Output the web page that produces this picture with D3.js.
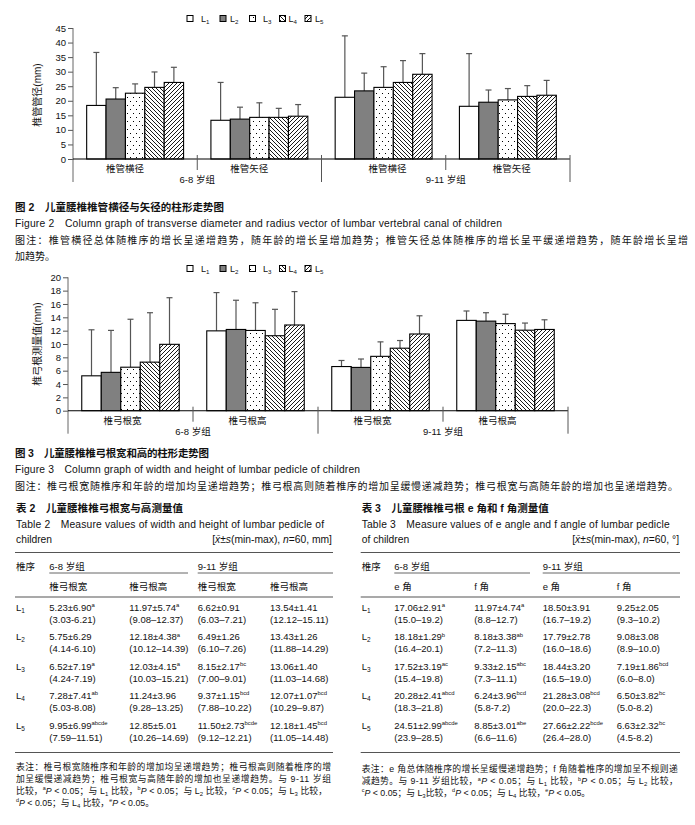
<!DOCTYPE html>
<html><head><meta charset="utf-8">
<script src="https://cdn.jsdelivr.net/npm/d3@7"></script>
<style>
html,body{margin:0;padding:0;background:#fff;}
svg text{white-space:pre;}
</style>
</head><body>
<svg id="page" width="695" height="825"></svg>
<script>
// ---------------- DATA ----------------
const levels = ["L1", "L2", "L3", "L4", "L5"];
const levelLabels = ["L_{1}", "L_{2}", "L_{3}", "L_{4}", "L_{5}"];
const ageGroups = ["6-8 岁组", "9-11 岁组"];

// Figure 2
const fig2Cats = ["椎管横径", "椎管矢径", "椎管横径", "椎管矢径"];
const fig2Mean = [
  [18.4, 20.6, 22.6, 24.6, 26.3],
  [13.3, 13.7, 14.3, 14.3, 14.7],
  [21.2, 23.4, 24.6, 26.3, 29.1],
  [18.1, 19.5, 20.3, 21.5, 21.9]
];
const fig2Sd = [
  [18.2, 3.9, 3.2, 5.3, 5.2],
  [13.0, 4.1, 5.0, 3.1, 4.0],
  [21.1, 6.1, 7.1, 7.5, 7.1],
  [18.1, 4.2, 3.9, 3.7, 5.1]
];
const fig2Ticks = [0, 5, 10, 15, 20, 25, 30, 35, 40, 45];

// Table 2 / Figure 3
const fig3Cats = ["椎弓根宽", "椎弓根高", "椎弓根宽", "椎弓根高"];
const fig3Ticks = [0, 2, 4, 6, 8, 10, 12, 14, 16, 18, 20];
const widthYoungMean = [5.23, 5.75, 6.52, 7.28, 9.95];
const widthYoungSd = [6.90, 6.29, 7.19, 7.41, 6.99];
const widthYoungSup = ["a", "", "a", "ab", "abcde"];
const widthYoungRange = ["3.03-6.21", "4.14-6.10", "4.24-7.19", "5.03-8.08", "7.59–11.51"];
const heightYoungMean = [11.97, 12.18, 12.03, 11.24, 12.85];
const heightYoungSd = [5.74, 4.38, 4.15, 3.96, 5.01];
const heightYoungSup = ["a", "a", "a", "", ""];
const heightYoungRange = ["9.08–12.37", "10.12–14.39", "10.03–15.21", "9.28–13.25", "10.26–14.69"];
const widthOldMean = [6.62, 6.49, 8.15, 9.37, 11.50];
const widthOldSd = [0.91, 1.26, 2.17, 1.15, 2.73];
const widthOldSup = ["", "", "bc", "bcd", "bcde"];
const widthOldRange = ["6.03–7.21", "6.10–7.26", "7.00–9.01", "7.88–10.22", "9.12–12.21"];
const heightOldMean = [13.54, 13.43, 13.06, 12.07, 12.18];
const heightOldSd = [1.41, 1.26, 1.40, 1.07, 1.45];
const heightOldSup = ["", "", "", "bcd", "bcd"];
const heightOldRange = ["12.12–15.11", "11.88–14.29", "11.03–14.68", "10.29–9.87", "11.05–14.48"];

// Table 3
const eYoungMean = [17.06, 18.18, 17.52, 20.28, 24.51];
const eYoungSd = [2.91, 1.29, 3.19, 2.41, 2.99];
const eYoungSup = ["a", "b", "ac", "abcd", "abcde"];
const eYoungRange = ["15.0–19.2", "16.4–20.1", "15.4–19.8", "18.3–21.8", "23.9–28.5"];
const fYoungMean = [11.97, 8.18, 9.33, 6.24, 8.85];
const fYoungSd = [4.74, 3.38, 2.15, 3.96, 3.01];
const fYoungSup = ["a", "ab", "abc", "bcd", "abe"];
const fYoungRange = ["8.8–12.7", "7.2–11.3", "7.3–11.1", "5.8-7.2", "6.6–11.6"];
const eOldMean = [18.50, 17.79, 18.44, 21.28, 27.66];
const eOldSd = [3.91, 2.78, 3.20, 3.08, 2.22];
const eOldSup = ["", "", "", "bcd", "bcde"];
const eOldRange = ["16.7–19.2", "16.0–18.6", "16.5–19.0", "20.0–22.3", "26.4–28.0"];
const fOldMean = [9.25, 9.08, 7.19, 6.50, 6.63];
const fOldSd = [2.05, 3.08, 1.86, 3.82, 2.32];
const fOldSup = ["", "", "bcd", "bc", "bc"];
const fOldRange = ["9.3–10.2", "8.9–10.0", "6.0–8.0", "5.0-8.2", "4.5-8.2"];

// ---------------- RENDER ----------------
const FONT = '"Liberation Sans", Arial, "Noto Sans CJK SC", sans-serif';
const svg = d3.select("#page").attr("font-family", FONT);
svg.append("rect").attr("width", 695).attr("height", 825).attr("fill", "#fff");

const defs = svg.append("defs");
const pDots = defs.append("pattern").attr("id", "pDots").attr("patternUnits", "userSpaceOnUse").attr("width", 6).attr("height", 8);
pDots.append("rect").attr("width", 6).attr("height", 8).attr("fill", "#fff");
pDots.append("rect").attr("x", 1).attr("y", 1).attr("width", 1).attr("height", 1).attr("fill", "#000");
pDots.append("rect").attr("x", 4).attr("y", 5).attr("width", 1).attr("height", 1).attr("fill", "#000");
const pBack = defs.append("pattern").attr("id", "pBack").attr("patternUnits", "userSpaceOnUse").attr("width", 4).attr("height", 4);
pBack.append("rect").attr("width", 4).attr("height", 4).attr("fill", "#fff");
pBack.append("path").attr("d", "M-1,3 l2,2 M0,0 l4,4 M3,-1 l2,2").attr("stroke", "#000").attr("stroke-width", 0.9);
const pFwd = defs.append("pattern").attr("id", "pFwd").attr("patternUnits", "userSpaceOnUse").attr("width", 4).attr("height", 4);
pFwd.append("rect").attr("width", 4).attr("height", 4).attr("fill", "#fff");
pFwd.append("path").attr("d", "M-1,1 l2,-2 M0,4 l4,-4 M3,5 l2,-2").attr("stroke", "#000").attr("stroke-width", 0.9);
const fills = ["#fff", "#808080", "url(#pDots)", "url(#pBack)", "url(#pFwd)"];
const color = d3.scaleOrdinal().domain(levels).range(fills);

function rich(parent, x, yc, str, size, opts = {}) {
  const t = parent.append("text").attr("x", x).attr("y", yc + size * 0.36)
    .attr("font-size", size).attr("fill", opts.fill || "#111");
  if (opts.weight) t.attr("font-weight", opts.weight);
  if (opts.anchor) t.attr("text-anchor", opts.anchor);
  const parts = str.split(/(\^\{[^}]*\}|_\{[^}]*\}|\*[^*]+\*)/).filter(s => s.length);
  let shift = 0;
  parts.forEach(p => {
    let dy = 0, txt = p, fs = null, it = false;
    if (p.startsWith("^{")) { txt = p.slice(2, -1); fs = size * 0.62; dy = -size * 0.4; }
    else if (p.startsWith("_{")) { txt = p.slice(2, -1); fs = size * 0.68; dy = size * 0.22; }
    else if (p.startsWith("*")) { txt = p.slice(1, -1); it = true; }
    const ts = t.append("tspan").text(txt);
    if (dy - shift !== 0) ts.attr("dy", dy - shift);
    shift = dy;
    if (fs) ts.attr("font-size", fs);
    if (it) ts.attr("font-style", "italic");
  });
  if (opts.width) t.attr("textLength", opts.width).attr("lengthAdjust", "spacing");
  return t;
}

function barChart(cfg) {
  const g = svg.append("g");
  const y = d3.scaleLinear().domain([0, d3.max(cfg.ticks)]).range([cfg.yBase, cfg.yTop]);
  const x = d3.scaleBand().domain(d3.range(cfg.cats.length)).range([cfg.x0, cfg.x1]);
  const groupW = x.bandwidth() * 0.78;
  const inner = d3.scaleBand().domain(levels).range([0, groupW]);

  // y axis
  const ax = g.append("g").attr("transform", `translate(${cfg.x0},0)`)
    .call(d3.axisLeft(y).tickValues(cfg.ticks).tickSize(5).tickPadding(2));
  ax.select(".domain").remove();
  ax.selectAll(".tick line").attr("stroke", "#555");
  ax.selectAll(".tick text").attr("font-size", 9.5).attr("fill", "#111").attr("font-family", FONT);
  g.append("line").attr("x1", cfg.x0).attr("x2", cfg.x0).attr("y1", cfg.yTop).attr("y2", cfg.yBase + 23)
    .attr("stroke", "#666").attr("stroke-width", 1);

  // bars
  cfg.means.forEach((row, i) => {
    row.forEach((v, j) => {
      const lv = levels[j];
      const bx = x(i) + (x.bandwidth() - groupW) / 2 + inner(lv);
      const cx = bx + inner.bandwidth() / 2;
      const top = v + cfg.sds[i][j];
      g.append("line").attr("x1", cx).attr("x2", cx).attr("y1", y(v)).attr("y2", y(top))
        .attr("stroke", "#555").attr("stroke-width", 1.2);
      g.append("line").attr("x1", cx - 3).attr("x2", cx + 3).attr("y1", y(top)).attr("y2", y(top))
        .attr("stroke", "#555").attr("stroke-width", 1.2);
      g.append("rect").attr("x", bx).attr("y", y(v)).attr("width", inner.bandwidth()).attr("height", y(0) - y(v))
        .attr("fill", color(lv)).attr("stroke", "#000").attr("stroke-width", 1.1);
    });
  });

  // baseline
  g.append("line").attr("x1", cfg.x0).attr("x2", cfg.x1).attr("y1", y(0)).attr("y2", y(0))
    .attr("stroke", "#000").attr("stroke-width", 1.1);
  // separators
  d3.range(1, cfg.cats.length + 1).forEach(k => {
    const sx = cfg.x0 + k * x.bandwidth();
    const long = k % 2 === 0;
    g.append("line").attr("x1", sx).attr("x2", sx).attr("y1", y(0) - 4).attr("y2", y(0) + (long ? 23 : 11))
      .attr("stroke", "#555").attr("stroke-width", 1);
  });
  // category labels
  cfg.cats.forEach((c, i) => {
    rich(g, x(i) + x.bandwidth() / 2 + cfg.labOff[i], y(0) + 10, c, 9.5, { anchor: "middle" });
  });
  ageGroups.forEach((a, k) => {
    rich(g, cfg.x0 + (2 * k + 1) * x.bandwidth(), y(0) + 20.5, a, 9.5, { anchor: "middle" });
  });
  // y label
  g.append("text").attr("transform", `translate(41,${cfg.yLabelY}) rotate(-90)`)
    .attr("text-anchor", "middle").attr("font-size", 10).attr("fill", "#111").text(cfg.yLabel);

  // legend
  const lbx = [187, 220, 249.5, 279.5, 305];
  const ltx = [201, 230, 263, 288.5, 315];
  levels.forEach((lv, j) => {
    g.append("rect").attr("x", lbx[j]).attr("y", cfg.legendY - 3).attr("width", 6).attr("height", 6)
      .attr("fill", color(lv)).attr("stroke", "#000").attr("stroke-width", 1);
    rich(g, ltx[j], cfg.legendY, levelLabels[j], 9, {});
  });
}

barChart({
  cats: fig2Cats, means: fig2Mean, sds: fig2Sd, ticks: fig2Ticks,
  yBase: 159, yTop: 28, x0: 73, x1: 570, labOff: [-10, -10, 4, 4],
  yLabel: "椎管管径(mm)", yLabelY: 95, legendY: 18.5
});
barChart({
  cats: fig3Cats,
  means: [widthYoungMean, heightYoungMean, widthOldMean, heightOldMean],
  sds: [widthYoungSd, heightYoungSd, widthOldSd, heightOldSd],
  ticks: fig3Ticks,
  yBase: 410.7, yTop: 277.3, x0: 68, x1: 568, labOff: [-8, -8, -8, -8],
  yLabel: "椎弓根测量值(mm)", yLabelY: 344, legendY: 268.5
});

// captions
const cap = svg.append("g");
rich(cap, 15, 207, "图 2　儿童腰椎椎管横径与矢径的柱形走势图", 10.5, { weight: "bold", width: 209 });
rich(cap, 15, 223.5, "Figure 2　Column graph of transverse diameter and radius vector of lumbar vertebral canal of children", 10.3, { width: 487 });
rich(cap, 15, 240, "图注：椎管横径总体随椎序的增长呈递增趋势，随年龄的增长呈增加趋势；椎管矢径总体随椎序的增长呈平缓递增趋势，随年龄增长呈增", 10, { width: 673 });
rich(cap, 15, 256.5, "加趋势。", 10, {});
rich(cap, 15, 453, "图 3　儿童腰椎椎弓根宽和高的柱形走势图", 10.5, { weight: "bold", width: 194 });
rich(cap, 15, 469.5, "Figure 3　Column graph of width and height of lumbar pedicle of children", 10.3, { width: 345 });
rich(cap, 15, 486, "图注：椎弓根宽随椎序和年龄的增加均呈递增趋势；椎弓根高则随着椎序的增加呈缓慢递减趋势；椎弓根宽与高随年龄的增加也呈递增趋势。", 10, { width: 663 });

// tables
function drawTable(t) {
  const g = svg.append("g");
  const L = t.cols[0], R = t.right;
  rich(g, L, 508, t.title, 10.5, { weight: "bold", width: t.titleW });
  rich(g, L, 524, t.en1, 10.3, { width: t.en1W });
  rich(g, L, 539.5, t.en2, 10.3, {});
  rich(g, R - 1, 539.5, t.unit, 10.3, { anchor: "end" });
  const rule = (x1, x2, yy, w) => g.append("line").attr("x1", x1).attr("x2", x2).attr("y1", yy).attr("y2", yy)
    .attr("stroke", "#555").attr("stroke-width", w);
  rule(L - 1, R, 552.5, 1.1);
  rich(g, L, 566.5, "椎序", 9.5, {});
  rich(g, t.cols[1], 566.5, ageGroups[0], 9.5, {});
  rich(g, t.cols[3], 566.5, ageGroups[1], 9.5, {});
  rule(t.cols[1], t.sub1End, 573, 0.9);
  rule(t.cols[3], R, 573, 0.9);
  t.heads.forEach((h, k) => rich(g, t.cols[k + 1], 586.5, h, 9.5, {}));
  rule(L - 1, R, 597, 1.1);
  levels.forEach((lv, r) => {
    const yy = 607.5 + r * 29.4;
    rich(g, L, yy, levelLabels[r], 9.5, {});
    t.data.forEach((col, k) => {
      const m = col[0][r].toFixed(2), s = col[1][r].toFixed(2), sup = col[2][r];
      rich(g, t.cols[k + 1], yy, `${m}±${s}` + (sup ? `^{${sup}}` : ""), 9.5, {});
      rich(g, t.cols[k + 1], yy + 12, `(${col[3][r]})`, 9.5, {});
    });
  });
  rule(L - 1, R, 752.5, 1.1);
  t.notes.forEach((n, k) => {
    rich(g, L, t.noteY + k * 11.9, n[0], 8.8, n[1] ? { width: n[1] } : {});
  });
}

drawTable({
  cols: [16, 49.3, 129.3, 197.7, 270], right: 333, sub1End: 188,
  title: "表 2　儿童腰椎椎弓根宽与高测量值", titleW: 167,
  en1: "Table 2　Measure values of width and height of lumbar pedicle of", en1W: 308,
  en2: "children", unit: "[*x̄*±*s*(min-max), *n*=60, mm]",
  heads: ["椎弓根宽", "椎弓根高", "椎弓根宽", "椎弓根高"],
  data: [
    [widthYoungMean, widthYoungSd, widthYoungSup, widthYoungRange],
    [heightYoungMean, heightYoungSd, heightYoungSup, heightYoungRange],
    [widthOldMean, widthOldSd, widthOldSup, widthOldRange],
    [heightOldMean, heightOldSd, heightOldSup, heightOldRange]
  ],
  noteY: 767,
  notes: [
    ["表注：椎弓根宽随椎序和年龄的增加均呈递增趋势；椎弓根高则随着椎序的增", 315],
    ["加呈缓慢递减趋势；椎弓根宽与高随年龄的增加也呈递增趋势。与 9-11 岁组", 315],
    ["比较，^{a}*P* < 0.05；与 L_{1} 比较，^{b}*P* < 0.05；与 L_{2} 比较，^{c}*P* < 0.05；与 L_{3} 比较，", 311],
    ["^{d}*P* < 0.05；与 L_{4} 比较，^{e}*P* < 0.05。", null]
  ]
});

drawTable({
  cols: [361.7, 394.3, 474.3, 542.7, 616.7], right: 680, sub1End: 530,
  title: "表 3　儿童腰椎椎弓根 e 角和 f 角测量值", titleW: 187,
  en1: "Table 3　Measure values of e angle and f angle of lumbar pedicle", en1W: 308,
  en2: "of children", unit: "[*x̄*±*s*(min-max), *n*=60, °]",
  heads: ["e 角", "f 角", "e 角", "f 角"],
  data: [
    [eYoungMean, eYoungSd, eYoungSup, eYoungRange],
    [fYoungMean, fYoungSd, fYoungSup, fYoungRange],
    [eOldMean, eOldSd, eOldSup, eOldRange],
    [fOldMean, fOldSd, fOldSup, fOldRange]
  ],
  noteY: 769,
  notes: [
    ["表注：e 角总体随椎序的增长呈缓慢递增趋势；f 角随着椎序的增加呈不规则递", 316],
    ["减趋势。与 9-11 岁组比较，^{a}*P* < 0.05；与 L_{1} 比较，^{b}*P* < 0.05；与 L_{2} 比较，", 316],
    ["^{c}*P* < 0.05；与 L_{3}比较，^{d}*P* < 0.05；与 L_{4} 比较，^{e}*P* < 0.05。", null]
  ]
});
</script>
</body></html>
